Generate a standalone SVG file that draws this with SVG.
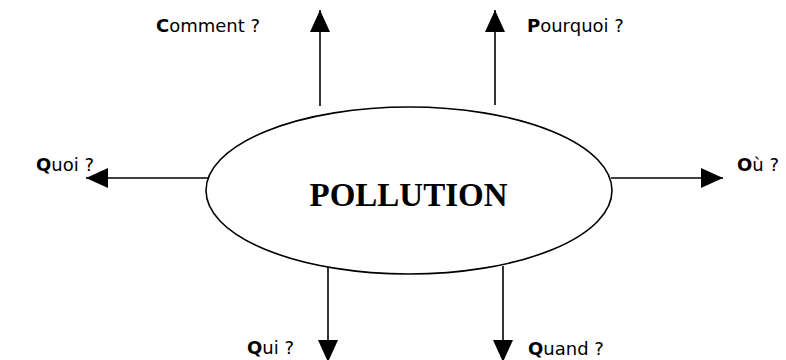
<svg xmlns="http://www.w3.org/2000/svg" width="786" height="360" viewBox="0 0 786 360">
<style>
.lbl{font-family:"Comic Sans MS","DejaVu Sans","Liberation Sans",sans-serif;font-size:18px;fill:#000}
.b{font-weight:bold}
.con{stroke:#000;stroke-width:1.6;fill:none}
</style>
<defs>
<marker id="ah" viewBox="0 0 22 20" refX="22" refY="10" markerWidth="22" markerHeight="20" markerUnits="userSpaceOnUse" orient="auto">
<path d="M0,0 L22,10 L0,20 z" fill="#000"/>
</marker>
</defs>
<rect width="786" height="360" fill="#fff"/>
<g id="connectors">
<line class="con" x1="320" y1="106" x2="320" y2="10" marker-end="url(#ah)"/>
<line class="con" x1="495" y1="105" x2="495" y2="10" marker-end="url(#ah)"/>
<line class="con" x1="213" y1="178" x2="86" y2="178" marker-end="url(#ah)"/>
<line class="con" x1="611" y1="178" x2="723" y2="178" marker-end="url(#ah)"/>
<line class="con" x1="328" y1="267" x2="328" y2="362" marker-end="url(#ah)"/>
<line class="con" x1="503" y1="266" x2="503" y2="362" marker-end="url(#ah)"/>
</g>
<g id="pollution">
<ellipse cx="409" cy="190.5" rx="203" ry="83.5" fill="#fff" stroke="#000" stroke-width="1.6"/>
<text x="408.5" y="206" text-anchor="middle" font-family="Liberation Serif,serif" font-weight="bold" font-size="33">POLLUTION</text>
</g>
<g id="comment"><text class="lbl" x="156" y="32"><tspan class="b">C</tspan>omment ?</text></g>
<g id="pourquoi"><text class="lbl" x="527" y="32"><tspan class="b">P</tspan>ourquoi ?</text></g>
<g id="quoi"><text class="lbl" x="36" y="171"><tspan class="b">Q</tspan>uoi ?</text></g>
<g id="ou"><text class="lbl" x="737" y="171"><tspan class="b">O</tspan>ù ?</text></g>
<g id="qui"><text class="lbl" x="247" y="354"><tspan class="b">Q</tspan>ui ?</text></g>
<g id="quand"><text class="lbl" x="528" y="355"><tspan class="b">Q</tspan>uand ?</text></g>
</svg>
